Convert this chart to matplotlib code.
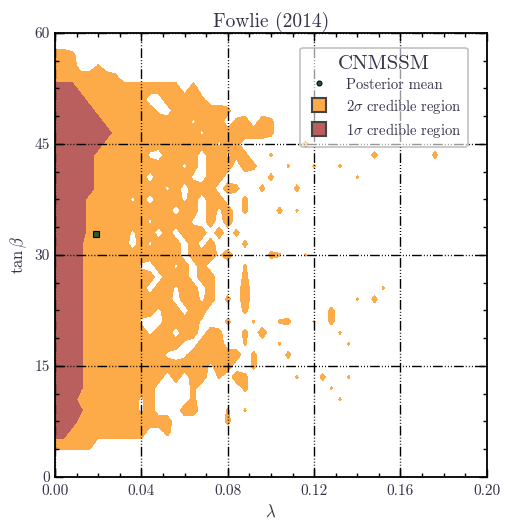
import matplotlib
matplotlib.use('Agg')
import matplotlib.pyplot as plt
import numpy as np
from matplotlib.lines import Line2D
from matplotlib.ticker import AutoMinorLocator

plt.rcParams['font.family'] = 'serif'
plt.rcParams['font.serif'] = ['cmr10']
plt.rcParams['mathtext.fontset'] = 'cm'
plt.rcParams['axes.formatter.use_mathtext'] = True

# credible-region map, one string per tan(beta) row, top (60) to bottom (0)
# columns are lambda = 0, 0.004, ..., 0.2
# '.' outside, 'o' 2 sigma, '#' 1 sigma ('%' just inside its edge),
# ':' and ',' small islands, '-' small holes
lam_grid = np.linspace(0, 0.2, 51)
tanb_grid = np.linspace(60, 0, 41)
region_rows = [
    "",
    "",
    "oo:",
    "ooo..,",
    "ooooooo:",
    "###oooooooooooo.o",
    "####ooooooo..ooo::",
    "#####ooooooo-.oooooo:",
    "######oooooooooo-ooo.:o.o:",
    "#######oooooooooo-ooooooo:",
    "######ooooooooooooo-o:.......:",
    "#####oooooo-.oooo.oo-::..,...........:......:",
    "#####oooooooooo-o.ooo.o:...,..,..,",
    "#####oooooo.oooo-.oo.....:.........,",
    "#####oooooooo-o.ooo.o:..:...:",
    "####ooooo-o.ooo-o.oo..:",
    "####oooooooooo.oo.o-o.:...:.,",
    "####ooooooo-oooo-.o.o",
    "####ooooo-oo.o.ooo.o.:",
    "###%ooooo.o-ooo.o.o...:",
    "###%ooooooooooo.ooo-o....:,..,",
    "###%oooooo-.oo-o.o....,",
    "###%oooooooo.ooo.oo...:",
    "###%ooooooo.oo-oo.o...o...............,",
    "###%oooooooooo.oo-o.:.o............,.:",
    "###%oooooooo-oo.oo....:.........:",
    "###%oooooo-..oooo-..:..,..,:..,.:",
    "###%ooooooo-oo.oo.o:..:.o........,",
    "###%ooooooooooo-.ooo..,...,.......,",
    "###%ooooooooo-.-oooooo.:...:",
    "###%oooooooooooooo-oo..:",
    "###%ooooooooo.o.oo.,.o:.....,..:..,",
    "###%oooooooo....:.....:.........,",
    "###ooooooo-o....:................,",
    "###%oooooo-o...oo...,.,",
    "###ooooooooooo......:",
    "##ooooooooo..:",
    "ooooo",
    "",
    "",
    "",
]
level_codes = {'.': 0.0, '-': 0.3, ',': 0.58, ':': 0.72, 'o': 1.0, '%': 1.6, '#': 2.0}

mean_lam = 0.019
mean_tanb = 32.8

x_ticks = [0.00, 0.04, 0.08, 0.12, 0.16, 0.20]
y_ticks = [0, 15, 30, 45, 60]

orange = '#fdaa48'
red = '#b9605f'
text_col = '#33334a'

z = np.array([[level_codes[c] for c in r.ljust(len(lam_grid), '.')] for r in region_rows])

fig = plt.figure(figsize=(5.05, 5.2), dpi=100)
ax = fig.add_axes([0.109, 0.0827, 0.855, 0.854])

ax.contourf(lam_grid, tanb_grid, z, levels=[0.5, 10], colors=[orange], zorder=1)
ax.contourf(lam_grid, tanb_grid, z, levels=[1.5, 10], colors=[red], zorder=1.1)
ax.plot([mean_lam], [mean_tanb], ls='none', marker='s', ms=4, mfc='#2d5a2d', mec='black', mew=0.8, zorder=3)

ax.set_xlim(0, 0.2)
ax.set_ylim(0, 60)
ax.set_xticks(x_ticks)
ax.set_yticks(y_ticks)
ax.set_xticklabels(['%.2f' % v for v in x_ticks])
ax.set_yticklabels([str(v) for v in y_ticks])
ax.xaxis.set_minor_locator(AutoMinorLocator(4))
ax.yaxis.set_minor_locator(AutoMinorLocator(4))
ax.tick_params(which='both', direction='in', top=True, right=True, colors='black',
               labelcolor=text_col, labelsize=11)
ax.tick_params(which='major', length=6, width=1)
ax.tick_params(which='minor', length=3, width=1)
ax.tick_params(axis='x', pad=5)
for s in ax.spines.values():
    s.set_linewidth(1.3)

ax.set_axisbelow(False)
ax.grid(True, which='major', color='black', lw=1.0,
        ls=(0, (7, 1.5, 0.7, 1.5, 0.7, 1.5, 0.7, 1.5)))

ax.set_title('Fowlie (2014)', fontsize=14, color=text_col, pad=4)
ax.set_xlabel(r'$\lambda$', fontsize=12, color=text_col)
ax.set_ylabel(r'$\tan\beta$', fontsize=12, color=text_col)

handles = [
    Line2D([], [], ls='none', marker='o', ms=3.5, mfc='#2d5a2d', mec='black', mew=0.8),
    Line2D([], [], ls='none', marker='s', ms=9.4, mfc=orange, mec='#444444', mew=1.5),
    Line2D([], [], ls='none', marker='s', ms=9.4, mfc=red, mec='#444444', mew=1.5),
]
labels = ['Posterior mean', r'$2\sigma$ credible region', r'$1\sigma$ credible region']
leg = ax.legend(handles, labels, title='CNMSSM', loc='upper right',
                bbox_to_anchor=(0.957, 0.967), borderaxespad=0, fontsize=10.5,
                title_fontsize=15, framealpha=0.6, edgecolor='#999999', fancybox=True,
                handlelength=1.7, handleheight=1.0, handletextpad=0.95, labelspacing=0.33,
                borderpad=0.5)
for t in leg.get_texts():
    t.set_color(text_col)
leg.get_title().set_color(text_col)
leg.get_frame().set_linewidth(1.2)

fig.savefig('out.png', dpi=100)
